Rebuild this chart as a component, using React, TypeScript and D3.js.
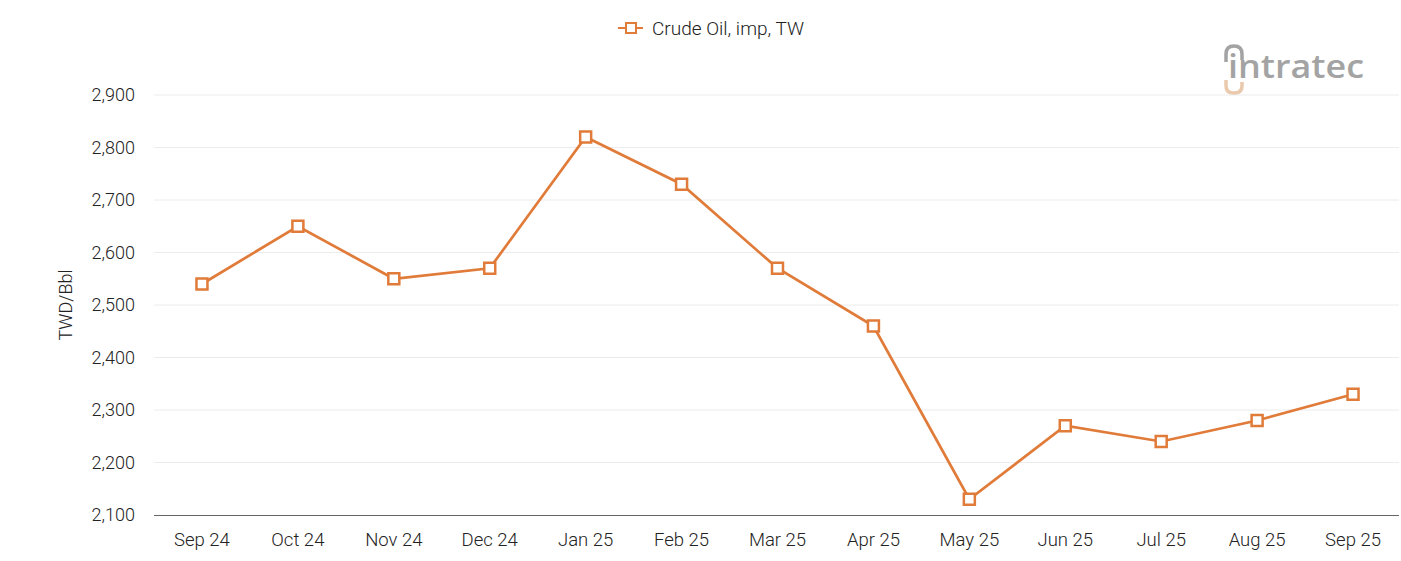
import React from "react";
import * as d3 from "d3";

const categories = ["Sep 24","Oct 24","Nov 24","Dec 24","Jan 25","Feb 25","Mar 25","Apr 25","May 25","Jun 25","Jul 25","Aug 25","Sep 25"];
const values = [2540,2650,2550,2570,2820,2730,2570,2460,2130,2270,2240,2280,2330];
const yTicks = [2100,2200,2300,2400,2500,2600,2700,2800,2900];
const seriesName = "Crude Oil, imp, TW";
const yTitle = "TWD/Bbl";

const W = 1401, H = 561;
const left = 154, right = 1399, top = 95, bottom = 515;
const color = "#E07B39";
const font = "Roboto, sans-serif";

export default function App() {
  const x = d3.scaleBand<string>().domain(categories).range([left, right + 2]);
  const y = d3.scaleLinear().domain([2100, 2900]).range([bottom, top]);
  const cx = (c: string) => (x(c) as number) + x.bandwidth() / 2;
  const line = d3.line<number>().x((_, i) => cx(categories[i])).y(v => y(v));
  const fmt = d3.format(",");
  return (
    <svg width={W} height={H} style={{ position: "absolute", left: 0, top: 0 }} fontFamily={font} fontWeight={300}>
      <rect width={W} height={H} fill="#fff" />
      {yTicks.map(t => (
        <g key={t}>
          {t !== 2100 && <line x1={left} x2={right} y1={y(t)} y2={y(t)} stroke="#ececec" strokeWidth={1} />}
          <text x={135} y={y(t)} dy="0.35em" textAnchor="end" fontSize={18} fill="#222">{fmt(t)}</text>
        </g>
      ))}
      <line x1={left} x2={right} y1={bottom + 0.5} y2={bottom + 0.5} stroke="#666" strokeWidth={1} />
      {categories.map(c => (
        <text key={c} x={cx(c)} y={546} textAnchor="middle" fontSize={18.5} fill="#222">{c}</text>
      ))}
      <text transform={`translate(72,${(top + bottom) / 2}) rotate(-90)`} textAnchor="middle" fontSize={18} fill="#222">{yTitle}</text>
      <path d={line(values) || ""} fill="none" stroke={color} strokeWidth={2.7} />
      {values.map((v, i) => (
        <rect key={i} x={cx(categories[i]) - 5.5} y={y(v) - 5.5} width={11} height={11} fill="#fff" stroke={color} strokeWidth={2.5} />
      ))}
      <g>
        <line x1={618} x2={643} y1={28} y2={28} stroke={color} strokeWidth={2} />
        <rect x={626} y={23} width={10} height={10} fill="#fff" stroke={color} strokeWidth={2} />
        <text x={652} y={28} dy="0.35em" fontSize={19} fill="#222">{seriesName}</text>
      </g>
      <g opacity={0.9}>
        <path d="M1226,62 L1226,54 Q1226,46 1234,46 Q1242,46 1242,54 L1242,60" fill="none" stroke="#9a9a9a" strokeWidth={3.5} />
        <path d="M1226,80 L1226,86 Q1226,93 1234,93 Q1242,93 1242,86 L1242,82" fill="none" stroke="#E8C4A4" strokeWidth={3.5} />
        <text x={1228} y={78} fontSize={33} fontWeight={600} fill="#9a9a9a" fontFamily="'Open Sans', sans-serif" textLength={136} lengthAdjust="spacingAndGlyphs">intratec</text>
      </g>
    </svg>
  );
}
